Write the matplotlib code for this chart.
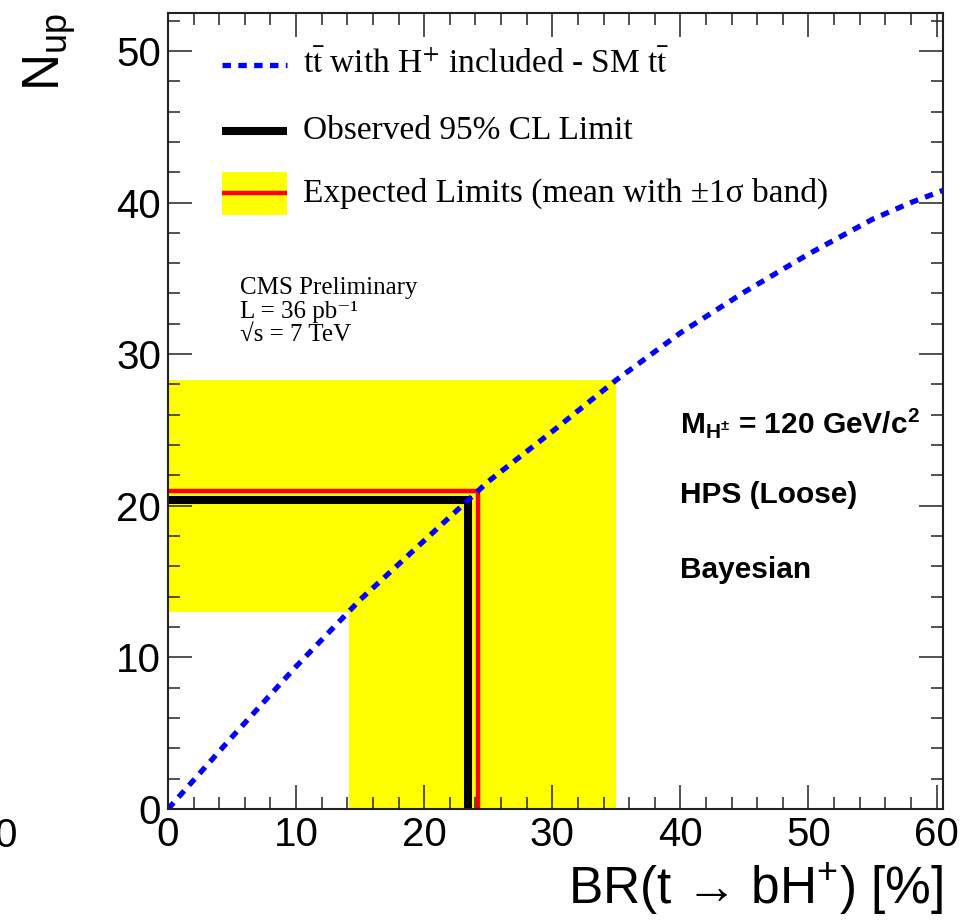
import matplotlib
matplotlib.use("Agg")
import matplotlib.pyplot as plt
from matplotlib.patches import Rectangle
from matplotlib.ticker import MultipleLocator

plt.rcParams['mathtext.fontset'] = 'custom'
plt.rcParams['mathtext.rm'] = 'Liberation Sans'
plt.rcParams['mathtext.it'] = 'Liberation Sans:italic'
plt.rcParams['mathtext.bf'] = 'Liberation Sans:bold'

SANS = ['Liberation Sans', 'DejaVu Sans']
SERIF = ['Liberation Serif', 'DejaVu Serif']

# N_up expected from the charged-Higgs signal as a function of BR(t -> bH+)
br_curve = [0, 5, 10, 15, 20, 25, 30, 35, 40, 45, 50, 55, 58, 60.5]
n_curve = [0, 4.75, 9.4, 13.8, 17.7, 21.6, 24.9, 28.3, 31.4, 34.1, 36.6, 38.9, 40.0, 40.8]

# observed 95% CL limit
obs_n = 20.4
obs_br = 23.4

# expected limit (mean) and its +-1 sigma band
exp_n = 21.0
exp_br = 24.2
band_n_lo, band_n_hi = 13.0, 28.3
band_br_lo, band_br_hi = 14.1, 35.0

fig = plt.figure(figsize=(9.77, 9.21), dpi=100)
ax = fig.add_axes([168 / 977, 1 - 809 / 921, 775 / 977, 796 / 921])
ax.set_xlim(0, 60.5)
ax.set_ylim(0, 52.5)

# +-1 sigma band (L-shaped: horizontal strip in N, vertical strip in BR)
band_x = [0, band_br_lo, band_br_lo, band_br_hi, band_br_hi, 0]
band_y = [band_n_lo, band_n_lo, 0, 0, band_n_hi, band_n_hi]
ax.fill(band_x, band_y, color='#ffff00', lw=0, zorder=1)

# expected and observed limits
ax.plot([0, exp_br, exp_br], [exp_n, exp_n, 0], color='#ff0000', lw=3.2,
        solid_joinstyle='miter', solid_capstyle='butt', zorder=2)
ax.plot([0, obs_br, obs_br], [obs_n, obs_n, 0], color='black', lw=5.8,
        solid_joinstyle='miter', solid_capstyle='butt', zorder=2)

# signal curve
DASH_LW = 3.8
DASHES = (1.6, 1.4)
ax.plot(br_curve, n_curve, color='#0000ff', lw=DASH_LW, dashes=DASHES,
        dash_capstyle='butt', zorder=3)

# ticks on all sides, pointing inward
ax.xaxis.set_major_locator(MultipleLocator(10))
ax.xaxis.set_minor_locator(MultipleLocator(2))
ax.yaxis.set_major_locator(MultipleLocator(10))
ax.yaxis.set_minor_locator(MultipleLocator(2))
ax.tick_params(which='both', direction='in', top=True, right=True, width=1.1,
               color='#222222')
ax.tick_params(which='major', length=17)
ax.tick_params(which='minor', length=8.5)
ax.tick_params(axis='x', which='major', pad=5, labelsize=29)
ax.tick_params(axis='y', which='major', pad=5, labelsize=29)
for lab in ax.get_xticklabels() + ax.get_yticklabels():
    lab.set_fontfamily(SANS)
for sp in ax.spines.values():
    sp.set_linewidth(1.5)
    sp.set_color('#222222')
    sp.set_zorder(4)

# axis titles
fig.text(943 / 977, 1 - 889 / 921, 'BR(t \u2192 bH$^{+}$) [%]',
         ha='right', va='center', fontsize=37, family=SANS,
         math_fontfamily='custom')
fig.text(50 / 977, 1 - 13 / 921, r'N$_{\rm up}$', rotation=90, ha='center',
         va='top', fontsize=37, family=SANS, math_fontfamily='custom')
fig.text(17 / 977, 1 - 836 / 921, '0', ha='right', va='center', fontsize=29,
         family=SANS)

# legend
kx0, kx1 = 54 / 775, 119 / 775
tx = 135 / 775
rows = [(809 - 65) / 796, (809 - 131) / 796, (809 - 193) / 796]
ax.plot([kx0, kx1], [rows[0]] * 2, transform=ax.transAxes, color='#0000ff',
        lw=DASH_LW, dashes=DASHES, dash_capstyle='butt', clip_on=False, zorder=5)
ax.plot([kx0, kx1], [rows[1]] * 2, transform=ax.transAxes, color='black',
        lw=5.8, solid_capstyle='butt', clip_on=False, zorder=5)
ax.add_patch(Rectangle((kx0, (809 - 215) / 796), kx1 - kx0, 43 / 796,
                       transform=ax.transAxes, color='#ffff00', lw=0, zorder=5))
ax.plot([kx0, kx1], [rows[2]] * 2, transform=ax.transAxes, color='#ff0000',
        lw=3.2, solid_capstyle='butt', clip_on=False, zorder=5)
legend_texts = [r't$\bar{\rm t}$ with H$^{+}$ included - SM t$\bar{\rm t}$',
                'Observed 95% CL Limit',
                'Expected Limits (mean with \u00b11\u03c3 band)']
for y, s in zip(rows, legend_texts):
    ax.text(tx, y, s, transform=ax.transAxes, ha='left', va='center',
            fontsize=24, family=SERIF, math_fontfamily='stix', zorder=5)

# experiment labels
cms_x = (240 - 168) / 775
for yb, s in [(294, 'CMS Preliminary'), (318, 'L = 36 pb\u207b\u00b9'),
              (341, '\u221as = 7 TeV')]:
    ax.text(cms_x, (809 - yb) / 796, s, transform=ax.transAxes, ha='left',
            va='baseline', fontsize=18, family=SERIF)

info_x = (680 - 168) / 775
for yc, s in [(423, r'M$_{\mathbf{H^{\pm}}}$ = 120 GeV/c$^{\mathbf{2}}$'),
              (495, 'HPS (Loose)'), (570, 'Bayesian')]:
    ax.text(info_x, (809 - yc) / 796, s, transform=ax.transAxes, ha='left',
            va='center', fontsize=21.5, family=SANS, fontweight='bold',
            math_fontfamily='custom')

fig.savefig('out.png', dpi=100)
